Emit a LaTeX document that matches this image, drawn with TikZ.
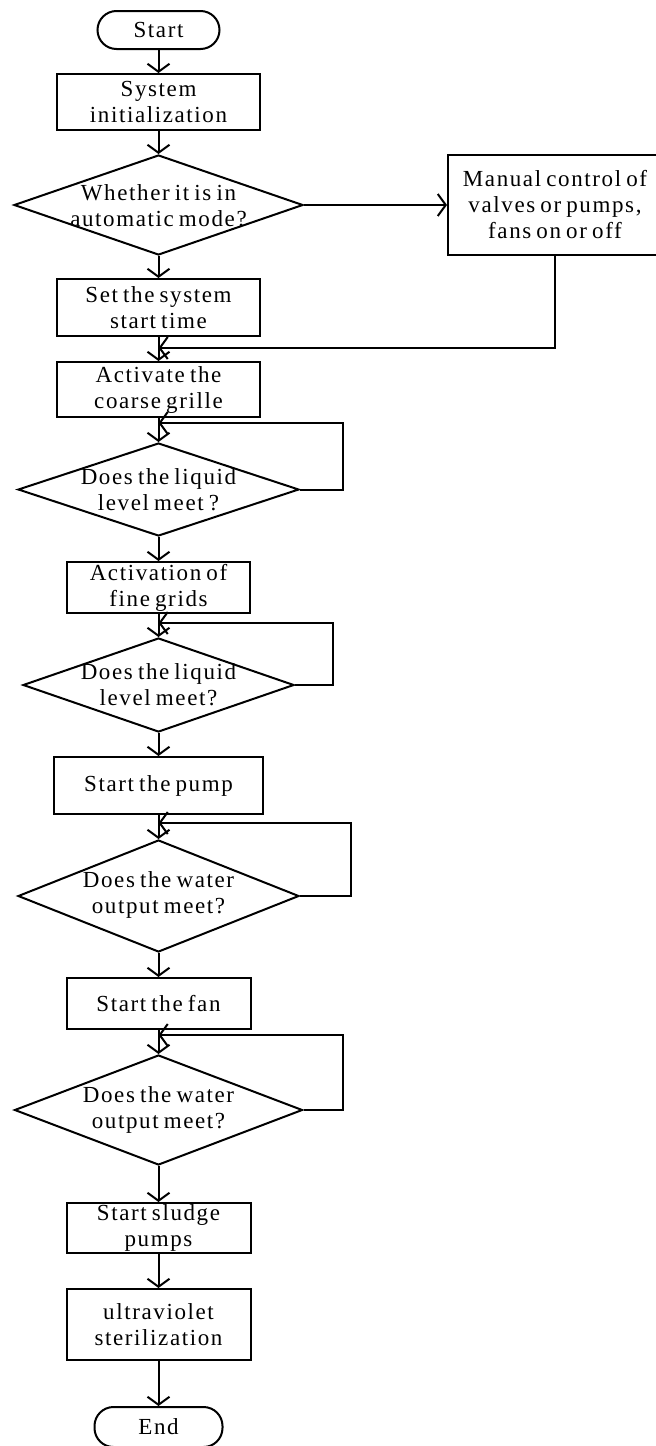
\documentclass[tikz,border=0pt]{standalone}
\usepackage{fontspec}
\setmainfont{Liberation Serif}[LetterSpace=7,WordSpace=0.7]
\usetikzlibrary{shapes.geometric,arrows.meta}
\tikzset{
  base/.style={draw=black, line width=2pt, inner sep=0pt, align=center,
    font=\fontsize{23pt}{26pt}\selectfont},
  procbox/.style={base, rectangle, minimum width=#1},
  termbox/.style={base, rectangle, rounded corners=19pt, minimum width=#1},
  diabox/.style={draw=black, line width=2pt, diamond, inner sep=0pt},
  txt/.style={inner sep=0pt, align=center, font=\fontsize{23pt}{26pt}\selectfont},
  arr/.style={line width=2pt, -{Straight Barb[length=8pt,width=22pt,line width=2pt]}},
  ln/.style={line width=2pt}
}
\begin{document}
\begin{tikzpicture}[x=1pt,y=-1pt]
\useasboundingbox (0,0) rectangle (656,1446);
% nodes
\node[termbox=122pt, minimum height=38pt] (start) at (158.5,30) {Start};
\node[procbox=203pt, minimum height=56pt] (init) at (158.5,102) {System\\initialization};
\node[diabox, minimum width=289pt, minimum height=100pt] (d1) at (158.5,205) {};
\node[txt] (d1t) at (158.5,206) {Whether it is in\\automatic mode?};
\node[procbox=214pt, minimum height=100pt] (manual) at (555,205) {Manual control of\\valves or pumps,\\fans on or off};
\node[procbox=203pt, minimum height=57pt] (set) at (158.5,307.5) {Set the system\\start time};
\coordinate (j0) at (158.5,348);
\node[procbox=203pt, minimum height=55pt] (coarse) at (158.5,389.5) {Activate the\\coarse grille};
\coordinate (j1) at (158.5,423);
\node[diabox, minimum width=281pt, minimum height=93pt] (d2) at (158.5,489.5) {};
\node[txt] (d2t) at (158.5,490) {Does the liquid\\level meet ?};
\node[procbox=183pt, minimum height=51pt] (fine) at (158.5,587.5) {Activation of\\fine grids};
\coordinate (j2) at (158.5,623);
\node[diabox, minimum width=271pt, minimum height=94pt] (d3) at (158.5,685) {};
\node[txt] (d3t) at (158.5,685) {Does the liquid\\level meet?};
\node[procbox=209pt, minimum height=57pt] (pump) at (158.5,785.5) {Start the pump};
\coordinate (j3) at (158.5,823);
\node[diabox, minimum width=281pt, minimum height=112pt] (d4) at (158.5,896) {};
\node[txt] (d4t) at (158.5,895) {Does the water\\output meet?};
\node[procbox=184pt, minimum height=51pt] (fan) at (158.5,1003.5) {Start the fan};
\coordinate (j4) at (158.5,1035);
\node[diabox, minimum width=288pt, minimum height=110pt] (d5) at (158.5,1110) {};
\node[txt] (d5t) at (158.5,1110) {Does the water\\output meet?};
\node[procbox=184pt, minimum height=50pt] (sludge) at (158.5,1228) {Start sludge\\pumps};
\node[procbox=184pt, minimum height=71pt] (uv) at (158.5,1324.5) {ultraviolet\\sterilization};
\node[termbox=128pt, minimum height=40pt] (end) at (158.5,1427) {End};
% connectors
\draw[arr] (start) -- (init);
\draw[arr] (init) -- (d1);
\draw[arr] (d1.east) -- (manual.west);
\draw[arr] (d1) -- (set);
\draw[arr] (set) -- (coarse);
\draw[arr] (manual.south) |- (j0);
\draw[arr] (coarse) -- (d2);
\draw[arr] (d2.east) -- ++(43,0) |- (j1);
\draw[arr] (d2) -- (fine);
\draw[arr] (fine) -- (d3);
\draw[arr] (d3.east) -- ++(38,0) |- (j2);
\draw[arr] (d3) -- (pump);
\draw[arr] (pump) -- (d4);
\draw[arr] (d4.east) -- ++(51,0) |- (j3);
\draw[arr] (d4) -- (fan);
\draw[arr] (fan) -- (d5);
\draw[arr] (d5.east) -- ++(39,0) |- (j4);
\draw[arr] (d5) -- (sludge);
\draw[arr] (sludge) -- (uv);
\draw[arr] (uv) -- (end);
\end{tikzpicture}
\end{document}
